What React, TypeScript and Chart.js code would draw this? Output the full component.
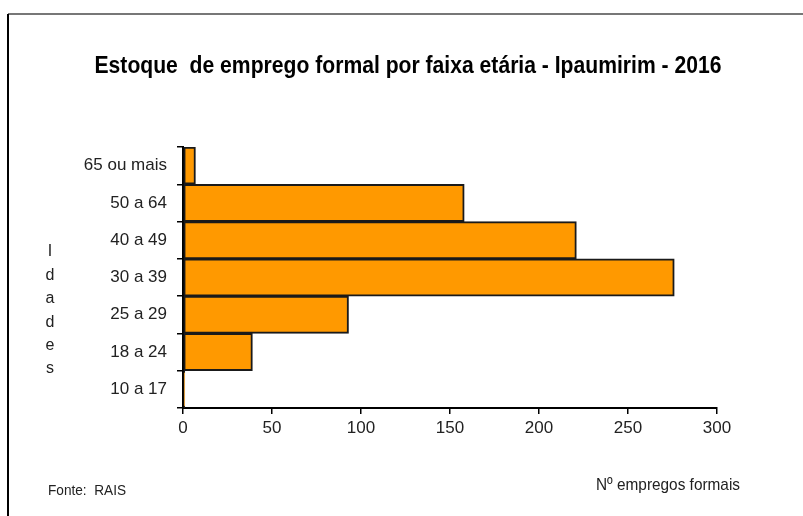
import React, { useEffect, useRef } from "react";
import { Chart, registerables } from "chart.js";

Chart.register(...registerables);

const categories = ["65 ou mais", "50 a 64", "40 a 49", "30 a 39", "25 a 29", "18 a 24", "10 a 17"];
const values = [7, 158, 221, 276, 93, 39, 1];
const xTicks = [0, 50, 100, 150, 200, 250, 300];
const titleText = "Estoque  de emprego formal por faixa etária - Ipaumirim - 2016";
const yTitleLetters = ["I", "d", "a", "d", "e", "s"];
const xTitleText = "Nº empregos formais";
const sourceText = "Fonte:  RAIS";

const FAMILY = "'Liberation Sans', Arial, sans-serif";

function drawCondensed(ctx: any, text: string, cx: number, y: number, font: string, width: number, align: string) {
  ctx.save();
  ctx.font = font;
  const w = ctx.measureText(text).width;
  const sx = Math.min(1, width / w);
  ctx.textAlign = "left";
  const left = align === "center" ? cx - (w * sx) / 2 : cx;
  ctx.translate(left, y);
  ctx.scale(sx, 1);
  ctx.fillText(text, 0, 0);
  ctx.restore();
}

const decorPlugin = {
  id: "decor",
  afterDraw(chart: any) {
    const ctx = chart.ctx;
    ctx.save();
    // frame
    ctx.strokeStyle = "#777";
    ctx.lineWidth = 2;
    ctx.beginPath();
    ctx.moveTo(8, 14);
    ctx.lineTo(803, 14);
    ctx.stroke();
    ctx.strokeStyle = "#000";
    ctx.beginPath();
    ctx.moveTo(8, 14);
    ctx.lineTo(8, 516);
    ctx.stroke();
    // title
    ctx.fillStyle = "#000";
    ctx.textBaseline = "alphabetic";
    drawCondensed(ctx, titleText, 408, 73, "bold 24px " + FAMILY, 627, "center");
    // y title
    ctx.fillStyle = "#222";
    ctx.font = "16px " + FAMILY;
    ctx.textAlign = "center";
    ctx.textBaseline = "middle";
    yTitleLetters.forEach((l, i) => ctx.fillText(l, 50, 252 + i * 23.4));
    // x title
    ctx.textBaseline = "alphabetic";
    drawCondensed(ctx, xTitleText, 668, 490, "17px " + FAMILY, 144, "center");
    // source
    drawCondensed(ctx, sourceText, 48, 495, "14px " + FAMILY, 78, "left");
    ctx.restore();
  },
};

export default function App() {
  const ref = useRef<HTMLCanvasElement>(null);
  useEffect(() => {
    if (!ref.current) return;
    const tickFont = { family: FAMILY, size: 17 };
    const chart = new Chart(ref.current, {
      type: "bar",
      data: {
        labels: categories,
        datasets: [
          {
            data: values,
            backgroundColor: "#FF9900",
            borderColor: "#1a1a1a",
            borderWidth: 2,
            borderSkipped: false,
            categoryPercentage: 1,
            barPercentage: 1,
          },
        ],
      },
      options: {
        indexAxis: "y",
        animation: false,
        responsive: false,
        maintainAspectRatio: false,
        layout: { padding: { top: 147, right: 86, left: 0, bottom: 0 } },
        plugins: { legend: { display: false }, tooltip: { enabled: false }, title: { display: false } },
        scales: {
          x: {
            type: "linear",
            min: 0,
            max: 300,
            afterBuildTicks: (s: any) => {
              s.ticks = xTicks.map((v) => ({ value: v }));
            },
            afterFit: (s: any) => {
              s.height = 108;
            },
            ticks: { color: "#222", font: tickFont, padding: 4, maxRotation: 0 },
            grid: { drawOnChartArea: false, drawTicks: true, tickLength: 6, color: "#000", lineWidth: 1.5 },
            border: { color: "#000", width: 2 },
          },
          y: {
            type: "category",
            offset: true,
            afterFit: (s: any) => {
              s.width = 183;
            },
            ticks: { color: "#222", font: tickFont, padding: 10 },
            grid: { offset: true, drawOnChartArea: false, drawTicks: true, tickLength: 6, color: "#000", lineWidth: 1.5 },
            border: { color: "#000", width: 2 },
          },
        },
      },
      plugins: [decorPlugin],
    } as any);
    return () => chart.destroy();
  }, []);
  return (
    <div style={{ position: "absolute", left: 0, top: 0, width: 803, height: 516, background: "#fff" }}>
      <canvas ref={ref} width={803} height={516} style={{ display: "block" }} />
    </div>
  );
}
